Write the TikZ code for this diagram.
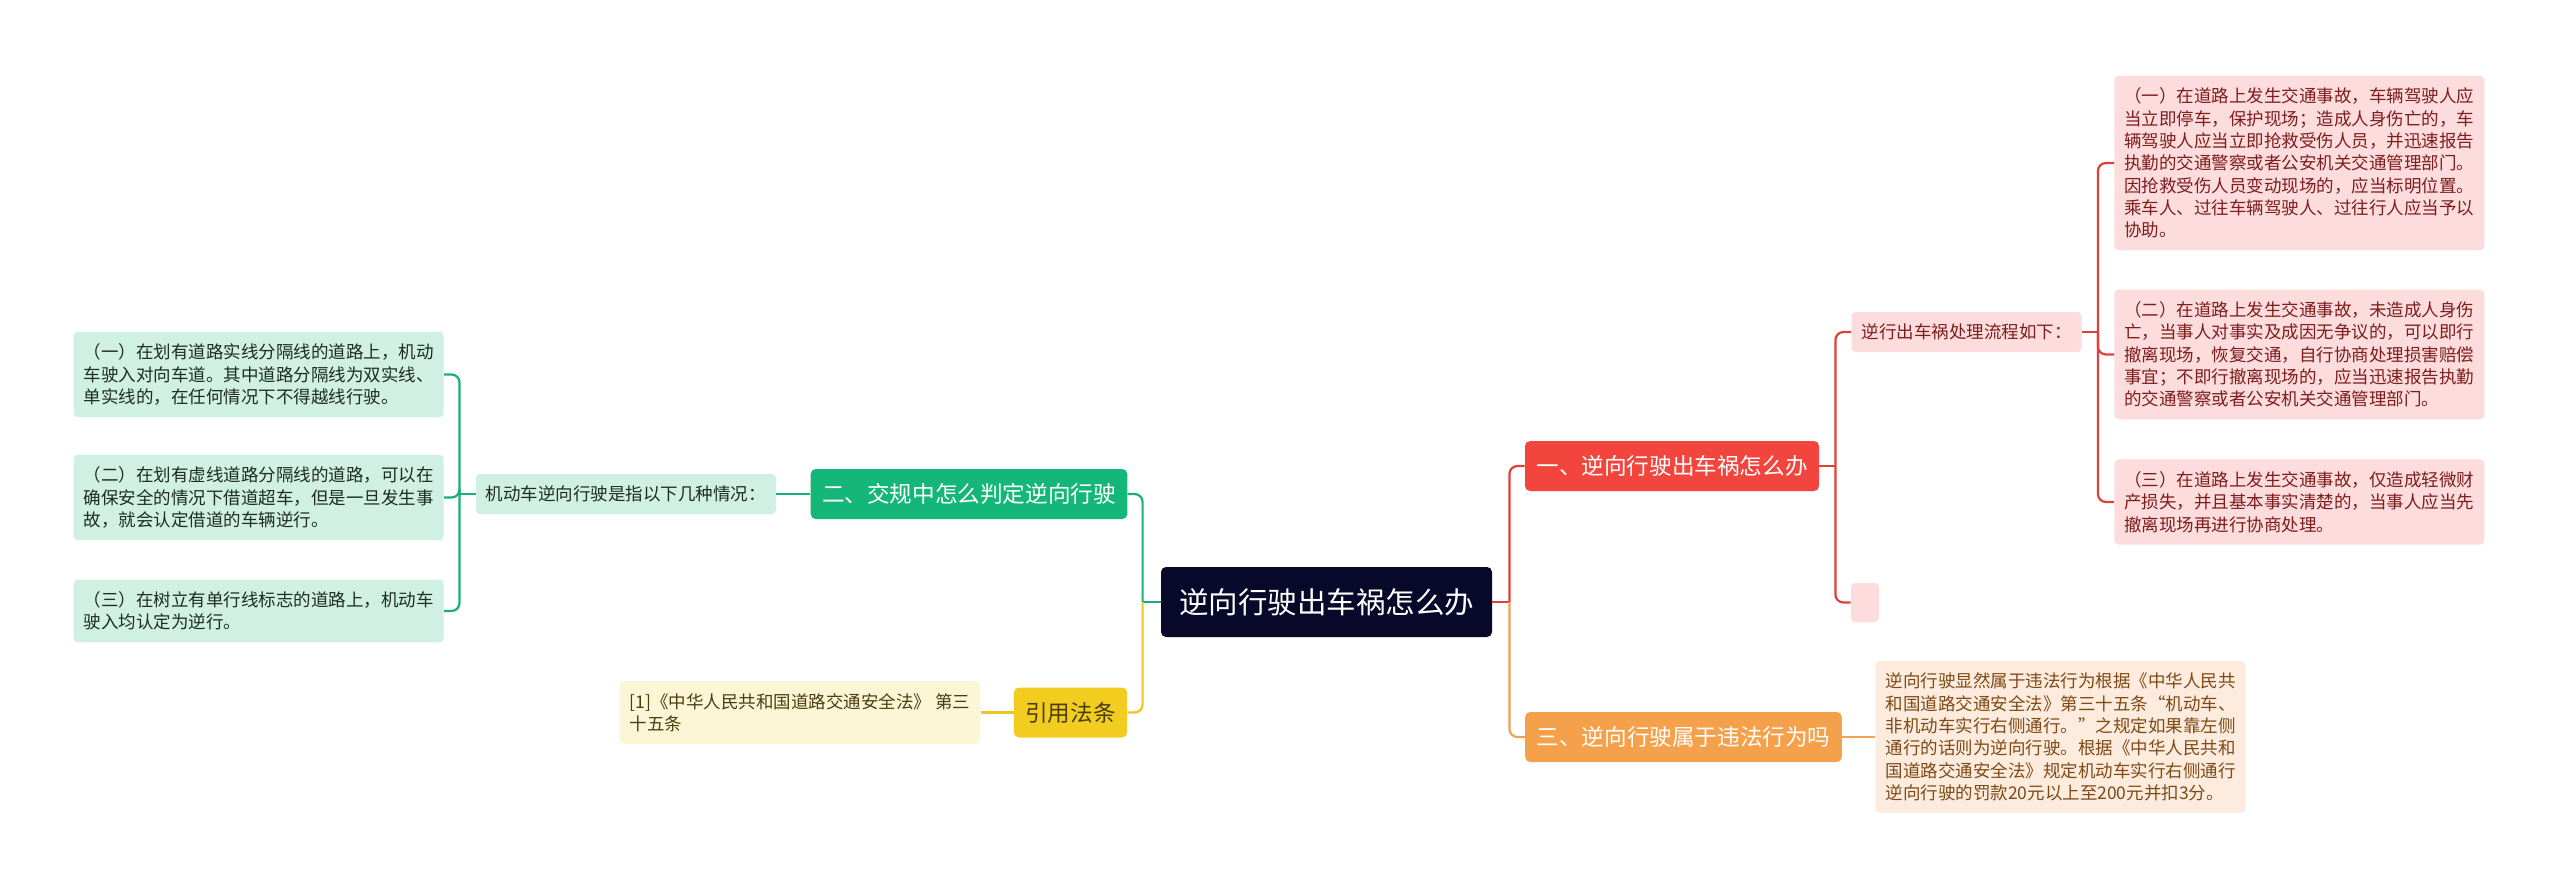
\documentclass[tikz,border=0pt]{standalone}
\usepackage{fontspec}
\setmainfont{Noto Sans CJK SC}
\usepackage{tikz}
\usetikzlibrary{positioning}

\definecolor{rootbg}{HTML}{08082A}
\definecolor{redtopic}{HTML}{F1453D}
\definecolor{redleaf}{HTML}{FCDCDC}
\definecolor{redtext}{HTML}{7E1D1D}
\definecolor{redline}{HTML}{E0403A}
\definecolor{greentopic}{HTML}{15B67A}
\definecolor{greenleaf}{HTML}{CFF0E2}
\definecolor{greentext}{HTML}{1E2B26}
\definecolor{greenline}{HTML}{1AAF77}
\definecolor{yellowtopic}{HTML}{F2CC1E}
\definecolor{yellowleaf}{HTML}{FCF5D6}
\definecolor{yellowtext}{HTML}{4A3E10}
\definecolor{yellowline}{HTML}{EFC424}
\definecolor{orangetopic}{HTML}{F5A14B}
\definecolor{orangeleaf}{HTML}{FDEBDD}
\definecolor{orangetext}{HTML}{7D4A16}
\definecolor{orangeline}{HTML}{EFA155}

\begin{document}
\begin{tikzpicture}[
    x=0.5pt, y=-0.5pt, % one unit = one pixel of the sheet
    link/.style={line width=1.1pt, rounded corners=4pt}, % Connector style
    topic/.style={rounded corners=2.5pt, minimum height=25pt, inner xsep=5.7pt,
        text=white, font=\fontsize{11.3}{13}\selectfont},
    leaf/.style={rounded corners=2pt, inner xsep=5pt, inner ysep=6pt, align=left,
        font=\fontsize{8.75}{11.15}\selectfont},
    tag/.style={rounded corners=2pt, inner xsep=5pt, minimum height=20pt,
        font=\fontsize{8.75}{11.15}\selectfont}
]
    \fill[white] (0,0) rectangle (2560,889);
    \useasboundingbox (0,0) rectangle (2560,889);

    % Root
    \node (root) [fill=rootbg, text=white, rounded corners=2.5pt, minimum width=165.5pt,
        minimum height=35pt, font=\fontsize{14.75}{17}\selectfont] at (1326.5,602) {逆向行驶出车祸怎么办};

    % Main branches
    \node (one)   [topic, fill=redtopic]    at (1672,466)    {一、逆向行驶出车祸怎么办};
    \node (three) [topic, fill=orangetopic] at (1683.5,737)  {三、逆向行驶属于违法行为吗};
    \node (two)   [topic, fill=greentopic]  at (969,494)     {二、交规中怎么判定逆向行驶};
    \node (cite)  [topic, fill=yellowtopic, text=yellowtext] at (1070.5,712.5) {引用法条};

    % Branch one
    \node (flow)  [tag, fill=redleaf, text=redtext] at (1966.5,332) {逆行出车祸处理流程如下：};
    \node (blank) [fill=redleaf, rounded corners=2pt, minimum width=14pt, minimum height=19.5pt] at (1865,602.5) {};
    \node (r1) [leaf, fill=redleaf, text=redtext, anchor=west] at (2114,163) {（一）在道路上发生交通事故，车辆驾驶人应\\当立即停车，保护现场；造成人身伤亡的，车\\辆驾驶人应当立即抢救受伤人员，并迅速报告\\执勤的交通警察或者公安机关交通管理部门。\\因抢救受伤人员变动现场的，应当标明位置。\\乘车人、过往车辆驾驶人、过往行人应当予以\\协助。};
    \node (r2) [leaf, fill=redleaf, text=redtext, anchor=west] at (2114,354.5) {（二）在道路上发生交通事故，未造成人身伤\\亡，当事人对事实及成因无争议的，可以即行\\撤离现场，恢复交通，自行协商处理损害赔偿\\事宜；不即行撤离现场的，应当迅速报告执勤\\的交通警察或者公安机关交通管理部门。};
    \node (r3) [leaf, fill=redleaf, text=redtext, anchor=west] at (2114,502) {（三）在道路上发生交通事故，仅造成轻微财\\产损失，并且基本事实清楚的，当事人应当先\\撤离现场再进行协商处理。};

    % Branch three
    \node (otext) [leaf, fill=orangeleaf, text=orangetext, right=16.5pt of three] {逆向行驶显然属于违法行为根据《中华人民共\\和国道路交通安全法》第三十五条“机动车、\\非机动车实行右侧通行。”之规定如果靠左侧\\通行的话则为逆向行驶。根据《中华人民共和\\国道路交通安全法》规定机动车实行右侧通行\\逆向行驶的罚款20元以上至200元并扣3分。};

    % Branch two
    \node (situ) [tag, fill=greenleaf, text=greentext, left=17pt of two] {机动车逆向行驶是指以下几种情况：};
    \node (l1) [leaf, fill=greenleaf, text=greentext, anchor=east] at (444,374.5) {（一）在划有道路实线分隔线的道路上，机动\\车驶入对向车道。其中道路分隔线为双实线、\\单实线的，在任何情况下不得越线行驶。};
    \node (l2) [leaf, fill=greenleaf, text=greentext, anchor=east] at (444,497.5) {（二）在划有虚线道路分隔线的道路，可以在\\确保安全的情况下借道超车，但是一旦发生事\\故，就会认定借道的车辆逆行。};
    \node (l3) [leaf, fill=greenleaf, text=greentext, anchor=east] at (444,611) {（三）在树立有单行线标志的道路上，机动车\\驶入均认定为逆行。};

    % Cited law
    \node (ref) [leaf, fill=yellowleaf, text=yellowtext, left=16.5pt of cite] {[1]《中华人民共和国道路交通安全法》 第三\\十五条};

    % Connectors from root
    \draw[link, draw=redline] (root.east) -- ++(17,0) coordinate (jr);
    \draw[link, draw=redline]    (jr) |- (one.west);
    \draw[link, draw=orangeline] (jr) |- (three.west);
    \draw[link, draw=greenline] (root.west) -- ++(-18,0) coordinate (jl);
    \draw[link, draw=greenline]  (jl) |- (two.east);
    \draw[link, draw=yellowline] (jl) |- (cite.east);

    % Connectors inside branches
    \draw[link, draw=redline] (one.east) -- ++(16,0) coordinate (j1);
    \draw[link, draw=redline] (j1) |- (flow.west);
    \draw[link, draw=redline] (j1) |- (blank.west);
    \draw[link, draw=redline] (flow.east) -- ++(16,0) coordinate (j2);
    \foreach \n in {r1,r2,r3}
        \draw[link, draw=redline] (j2) |- (\n.west);
    \draw[link, draw=orangeline] (three.east) -- (otext.west);
    \draw[link, draw=greenline] (two.west) -- (situ.east);
    \draw[link, draw=greenline] (situ.west) -- ++(-16,0) coordinate (j3);
    \foreach \n in {l1,l2,l3}
        \draw[link, draw=greenline] (j3) |- (\n.east);
    \draw[link, draw=yellowline] (cite.west) -- (ref.east);

\end{tikzpicture}
\end{document}
